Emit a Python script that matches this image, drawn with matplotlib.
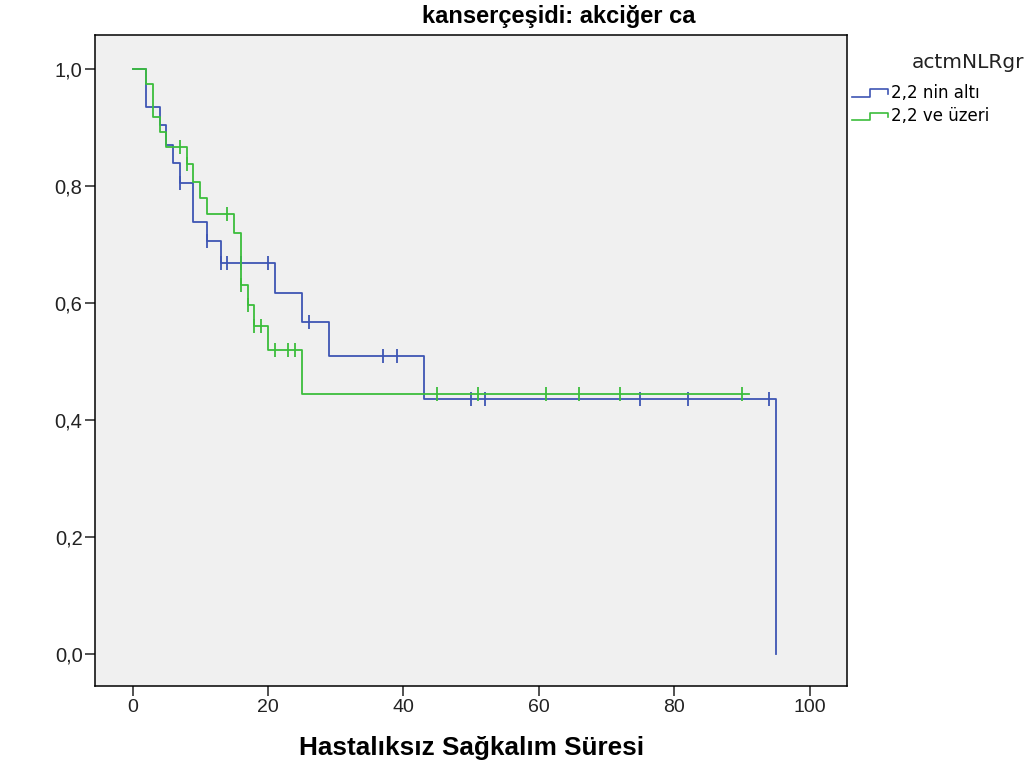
import numpy as np
import matplotlib
matplotlib.use("Agg")
import matplotlib.pyplot as plt
from matplotlib.lines import Line2D
from matplotlib.legend_handler import HandlerBase

# Kaplan-Meier steps
low_times = [0, 2, 4, 5, 6, 7, 9, 11, 13, 21, 25, 29, 43, 95]
low_surv = [1.0, 0.935, 0.904, 0.871, 0.839, 0.806, 0.739, 0.706, 0.668, 0.618, 0.567, 0.509, 0.436, 0.0]
low_censor = [7, 11, 13, 14, 16, 20, 26, 37, 39, 50, 52, 75, 82, 94]

high_times = [0, 2, 3, 4, 5, 8, 9, 10, 11, 15, 16, 17, 18, 20, 25, 91]
high_surv = [1.0, 0.974, 0.918, 0.892, 0.866, 0.837, 0.807, 0.780, 0.752, 0.720, 0.631, 0.597, 0.561, 0.520, 0.444, 0.444]
high_censor = [7, 8, 14, 16, 17, 18, 19, 21, 23, 24, 45, 51, 61, 66, 72, 90]

group_labels = ["2,2 nin altı", "2,2 ve üzeri"]
x_ticks = [0, 20, 40, 60, 80, 100]
y_ticks = [0.0, 0.2, 0.4, 0.6, 0.8, 1.0]

BLUE = "#3e55b4"
GREEN = "#3cbe3c"

plt.rcParams["font.family"] = ["Liberation Sans", "DejaVu Sans"]


class StepHandler(HandlerBase):
    # little step icon like the SPSS legend
    def create_artists(self, legend, orig, xd, yd, w, h, fs, trans):
        xs = [xd, xd + w * 0.5, xd + w * 0.5, xd + w, xd + w]
        ys = [yd + h * 0.1, yd + h * 0.1, yd + h * 0.75, yd + h * 0.75, yd + h * 0.35]
        ln = Line2D(xs, ys, color=orig.get_color(), lw=1.2, transform=trans)
        return [ln]


def km(ax, times, surv, censor, color):
    times = np.asarray(times, float)
    surv = np.asarray(surv, float)
    line, = ax.step(times, surv, where="post", color=color, lw=1.3)
    idx = np.searchsorted(times, censor, side="right") - 1
    ax.plot(censor, surv[idx], ls="none", marker="|", ms=9.5, mew=1.3, color=color)
    return line


fig = plt.figure(figsize=(10.36, 7.69), dpi=100)
ax = fig.add_axes([95 / 1036, 83 / 769, 752 / 1036, 651 / 769])
ax.set_facecolor("#f0f0f0")

l1 = km(ax, low_times, low_surv, low_censor, BLUE)
l2 = km(ax, high_times, high_surv, high_censor, GREEN)

ax.set_xlim(-5.54, 105.5)
ax.set_ylim(-0.0542, 1.0581)
ax.set_xticks(x_ticks)
ax.set_xticklabels([str(t) for t in x_ticks], fontsize=14)
ax.set_yticks(y_ticks)
ax.set_yticklabels([f"{v:.1f}".replace(".", ",") for v in y_ticks], fontsize=14.5)
ax.tick_params(direction="out", length=7, width=1.1, pad=2, colors="#222222")
for s in ax.spines.values():
    s.set_linewidth(1.1)

fig.text(559 / 1036, 1 - 17 / 769, "kanserçeşidi: akciğer ca", ha="center", va="center",
         fontsize=17, fontweight="bold")
fig.text(472 / 1036, 1 - 748 / 769, "Hastalıksız Sağkalım Süresi", ha="center", va="center",
         fontsize=18.8, fontweight="bold")

fig.text(912 / 1036, 1 - 62 / 769, "actmNLRgr", ha="left", va="center",
         fontsize=14.5, family="DejaVu Sans", color="#222222")
leg = fig.legend([l1, l2], group_labels, loc="upper left",
                 bbox_to_anchor=(852 / 1036, 1 - 84 / 769), frameon=False,
                 handler_map={Line2D: StepHandler()}, handlelength=2.15, handletextpad=0.18,
                 labelspacing=0.32, borderpad=0, borderaxespad=0,
                 prop={"family": "DejaVu Sans", "size": 12})

fig.savefig("out.png", dpi=100, facecolor="white")
